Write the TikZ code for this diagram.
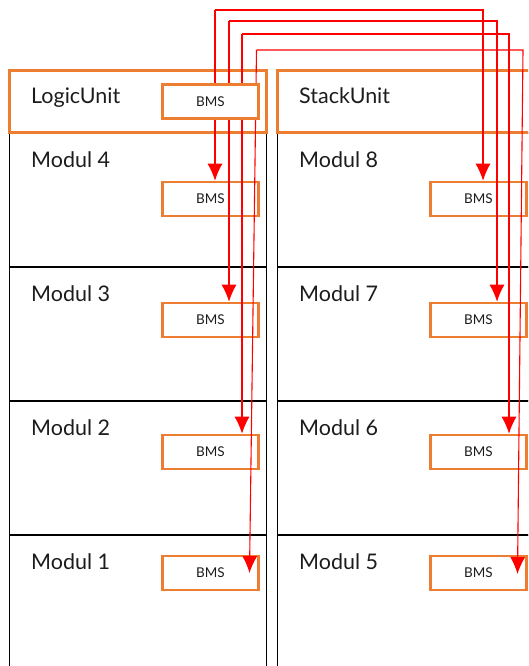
\documentclass[tikz,border=0pt]{standalone}
\usepackage{fontspec}
\setmainfont{Lato}
\usetikzlibrary{arrows.meta,calc}
\definecolor{unitorange}{RGB}{237,125,49}
\definecolor{inkgray}{RGB}{28,28,28}
\begin{document}
\begin{tikzpicture}[x=1pt,y=-1pt,
  section/.style={draw=black,line width=1.8pt,anchor=north west,inner sep=0pt,
    outer sep=0pt,minimum height=134pt},
  leftsec/.style={section,minimum width=257pt},
  rightsec/.style={section,minimum width=290pt},
  unitbox/.style={draw=unitorange,line width=3pt,anchor=north west,
    inner sep=0pt,outer sep=0pt,minimum height=62pt},
  title/.style={anchor=base west,inner sep=0pt,text=inkgray,
    font=\fontsize{21.5}{25}\selectfont},
  bms/.style={draw=unitorange,line width=2.6pt,fill=white,inner sep=0pt,
    minimum width=96.5pt,minimum height=34pt,text=inkgray,
    font=\fontsize{13.5}{15}\selectfont},
  wire/.style={draw=red,line width=1.1pt},
  feed/.style={wire,-{Latex[length=17pt,width=15pt]}}]
\useasboundingbox (0,0) rectangle (528,666);
\clip (0,0) rectangle (528,666);

% module compartments of both racks
\node[leftsec] (m4) at (9.5,133) {};
\node[leftsec] (m3) at (9.5,267) {};
\node[leftsec] (m2) at (9.5,401) {};
\node[leftsec,minimum height=160pt] (m1) at (9.5,535) {};
\node[rightsec] (m8) at (277.5,133) {};
\node[rightsec] (m7) at (277.5,267) {};
\node[rightsec] (m6) at (277.5,401) {};
\node[rightsec,minimum height=160pt] (m5) at (277.5,535) {};

% head units
\node[unitbox,minimum width=257pt] (logic) at (9.5,70.5) {};
\node[unitbox,minimum width=290pt] (stack) at (277.5,70.5) {};

% titles
\node[title] (logict) at (31,103) {LogicUnit};
\node[title] (stackt) at (299,103) {StackUnit};
\node[title] (m4t) at (31,167) {Modul 4};
\node[title] (m3t) at (31,301) {Modul 3};
\node[title] (m2t) at (31,435) {Modul 2};
\node[title] (m1t) at (31,569) {Modul 1};
\node[title] (m8t) at (299,167) {Modul 8};
\node[title] (m7t) at (299,301) {Modul 7};
\node[title] (m6t) at (299,435) {Modul 6};
\node[title] (m5t) at (299,569) {Modul 5};

% module BMS boards
\node[bms] (bms4) at (210.5,199) {BMS};
\node[bms] (bms3) at (210.5,320) {BMS};
\node[bms] (bms2) at (210.5,452) {BMS};
\node[bms] (bms1) at (210.5,573) {BMS};
\node[bms] (bms8) at (478.5,199) {BMS};
\node[bms] (bms7) at (478.5,320) {BMS};
\node[bms] (bms6) at (478.5,452) {BMS};
\node[bms] (bms5) at (478.5,573) {BMS};

% bus lines from the master BMS
\coordinate (k1) at (215,10);
\coordinate (k2) at (229,21);
\coordinate (k3) at (242,34);
\coordinate (k4) at (256.5,50);
\coordinate (r1) at (483,10);
\coordinate (r2) at (497,21);
\coordinate (r3) at (509,34);
\coordinate (r4) at (523,50);
\coordinate (t1) at (249.5,573);
\coordinate (t5) at (517.5,574);

\draw[feed] (k1) -- (k1 |- bms4.north);
\draw[feed] (k1) -- (r1) -- (r1 |- bms8.north);
\draw[feed] (k2) -- (k2 |- bms3.north);
\draw[feed] (k2) -- (r2) -- (r2 |- bms7.north);
\draw[feed] (k3) -- (k3 |- bms2.north);
\draw[feed] (k3) -- (r3) -- (r3 |- bms6.north);
\draw[feed] (k4) -- (t1);
\draw[feed] (k4) -- (r4) -- (t5);

% master BMS in the LogicUnit
\node[bms] (bmsl) at (210.5,101.5) {BMS};
\end{tikzpicture}
\end{document}
